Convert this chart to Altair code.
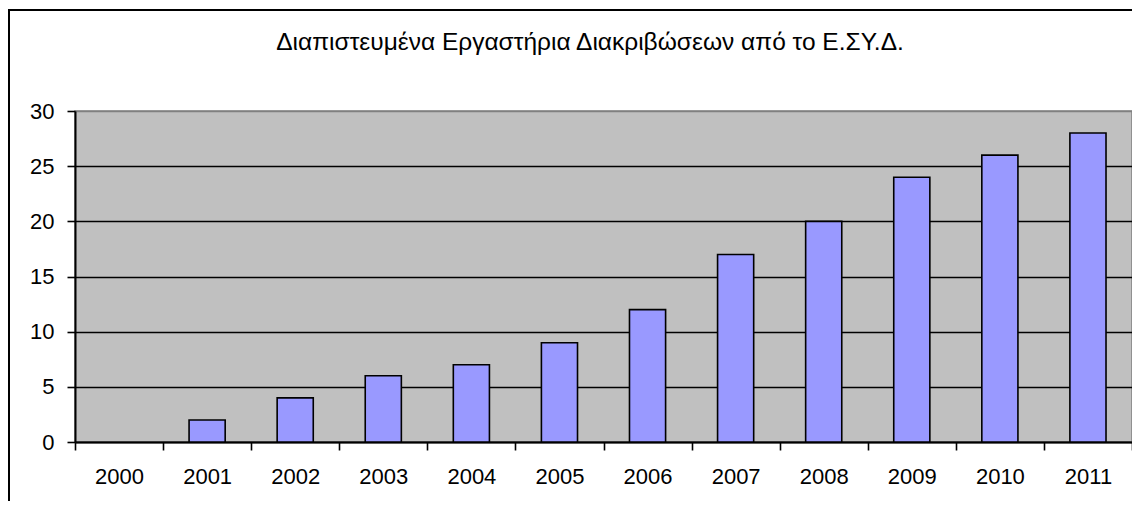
import altair as alt
import pandas as pd

years = ["2000", "2001", "2002", "2003", "2004", "2005", "2006", "2007", "2008", "2009", "2010", "2011"]
counts = [0, 2, 4, 6, 7, 9, 12, 17, 20, 24, 26, 28]
title_text = "Διαπιστευμένα Εργαστήρια Διακριβώσεων από το Ε.ΣΥ.Δ."
y_ticks = [0, 5, 10, 15, 20, 25, 30]

df = pd.DataFrame({"year": years, "count": counts})
one = pd.DataFrame({"k": [0]})

W, H = 1057, 331
FONT = "Liberation Sans"

bars = alt.Chart(df).mark_bar(
    fill="#9999FF", stroke="black", strokeWidth=1.6,
    width=alt.RelativeBandSize(0.41)
).encode(
    x=alt.X("year:N", sort=years, title=None,
            scale=alt.Scale(paddingInner=0, paddingOuter=0),
            axis=alt.Axis(labelAngle=0, tickBand="extent", labelFontSize=22, labelFont=FONT,
                          labelColor="black", tickColor="black", tickSize=8, tickWidth=1.6,
                          domainColor="black", domainWidth=2, labelPadding=16, grid=False)),
    y=alt.Y("count:Q", title=None,
            scale=alt.Scale(domain=[0, 30], nice=False),
            axis=alt.Axis(values=y_ticks, labelFontSize=22, labelFont=FONT, labelColor="black",
                          tickColor="black", tickSize=8, tickWidth=1.6, domainColor="black",
                          domainWidth=2, labelPadding=13, grid=True,
                          gridColor={"condition": {"test": "datum.value === 30", "value": "#808080"},
                                     "value": "black"},
                          gridWidth=1.6)),
    strokeOpacity=alt.condition(alt.datum.count > 0, alt.value(1), alt.value(0)),
)

title = alt.Chart(one).mark_text(
    text=title_text, fontSize=24.5, font=FONT, color="black", baseline="middle", align="center"
).encode(x=alt.value(515), y=alt.value(-68))

border_left = alt.Chart(one).mark_rule(color="black", strokeWidth=2).encode(
    x=alt.value(-66), y=alt.value(-101), y2=alt.value(H + 70))
border_top = alt.Chart(one).mark_rule(color="black", strokeWidth=2).encode(
    x=alt.value(-67), x2=alt.value(W + 20), y=alt.value(-101))

chart = alt.layer(bars, title, border_left, border_top).properties(
    width=W, height=H,
    autosize=alt.AutoSizeParams(type="none"),
    padding={"left": 67, "top": 103, "right": 0, "bottom": 59},
    background="white",
).configure_view(fill="#C0C0C0", stroke="#808080", strokeWidth=1.5)

chart.save("out.html", embed_options={"renderer": "svg", "actions": False})
